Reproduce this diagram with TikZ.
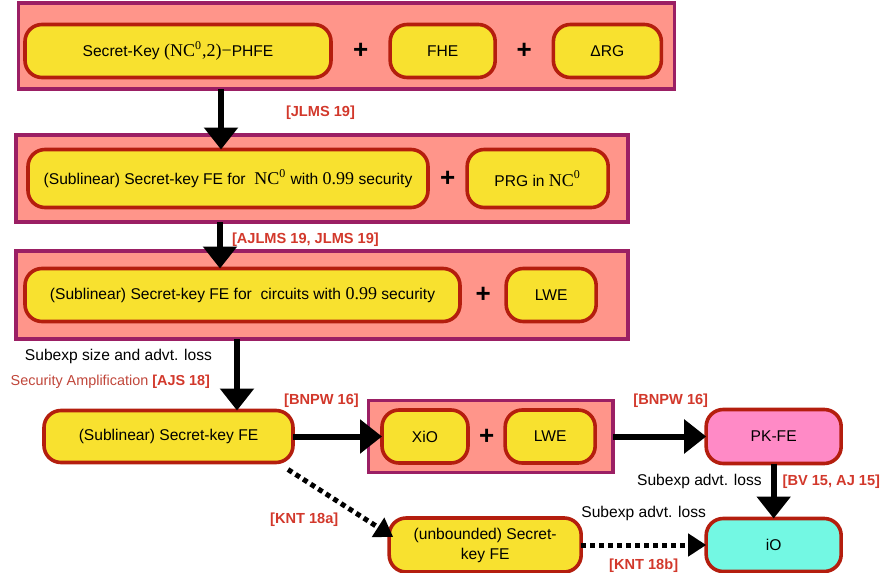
\documentclass[tikz,border=0pt]{standalone}
\usepackage{fontspec}
\setmainfont{Liberation Sans}
\newfontfamily\tms{Liberation Serif}
\newcommand\mth[1]{{\fontsize{9}{9}\selectfont\tms #1}}
\usetikzlibrary{positioning,fit,backgrounds,arrows.meta}

\definecolor{boxyellow}{HTML}{F8E12F}
\definecolor{boxred}{HTML}{B41E0E}
\definecolor{salmon}{HTML}{FF958A}
\definecolor{plum}{HTML}{9B1F64}
\definecolor{pkpink}{HTML}{FF8AC6}
\definecolor{ioaqua}{HTML}{73F8E3}
\definecolor{citered}{HTML}{D2382B}
\definecolor{amplred}{HTML}{C0463A}

\begin{document}
\begin{tikzpicture}[
        primitive/.style={
                rectangle,
                rounded corners=8.5pt,
                draw=boxred,
                fill=boxyellow,
                line width=1.8pt,
                minimum height=26.5pt,
                inner sep=2pt,
                outer sep=0pt,
                font=\fontsize{7.8}{9}\selectfont
            },
        bundle/.style={
                rectangle,
                draw=plum,
                fill=salmon,
                line width=1.6pt,
                outer sep=0pt
            },
        plus/.style={
                inner sep=0pt,
                outer sep=0pt,
                font=\fontsize{13}{13}\selectfont\bfseries
            },
        cite/.style={
                text=citered,
                inner sep=1pt,
                font=\fontsize{7.3}{8.5}\selectfont\bfseries
            },
        note/.style={
                inner sep=1pt,
                font=\fontsize{7.8}{9}\selectfont
            },
        imply/.style={
                line width=3pt,
                -{Triangle[length=11pt,width=16.5pt]}
            },
        weak/.style={
                line width=2.5pt,
                dash pattern=on 2.5pt off 2pt,
                -{Triangle[length=9pt,width=11pt]}
            }
    ]
    \useasboundingbox (0,0) rectangle (440pt,-286.5pt);

    % first row
    \node[primitive, minimum width=153pt] (PHFE) at (89pt,-25.5pt) {Secret-Key \mth{(NC\textsuperscript{0},2)−}PHFE};
    \node[plus] (P1) [right=11pt of PHFE] {+};
    \node[primitive, minimum width=52.5pt] (FHE) [right=11pt of P1] {FHE};
    \node[plus] (P2) [right=10.75pt of FHE] {+};
    \node[primitive, minimum width=54pt] (DRG) [right=10.75pt of P2] {ΔRG};

    % second row
    \node[primitive, minimum width=200pt, minimum height=29pt] (SKNC) [below=36pt of PHFE, xshift=25pt] {(Sublinear) Secret-key FE for~~\mth{NC\textsuperscript{0}} with \mth{0.99} security};
    \node[plus] (P3) [right=6pt of SKNC] {+};
    \node[primitive, minimum width=70.5pt, minimum height=29pt] (PRG) [right=6pt of P3] {PRG in \mth{NC\textsuperscript{0}}};

    % third row
    \node[primitive, minimum width=217.5pt] (SKC) [below=30.5pt of SKNC, xshift=7.25pt] {(Sublinear) Secret-key FE for~~circuits with \mth{0.99} security};
    \node[plus] (P4) [right=7.75pt of SKC] {+};
    \node[primitive, minimum width=45pt] (LWEa) [right=7.75pt of P4] {LWE};

    % fourth row
    \node[primitive, minimum width=124.5pt, minimum height=26pt] (SKFE) [below=44.5pt of SKC, xshift=-37pt] {(Sublinear) Secret-key FE};
    \node[primitive, minimum width=43pt] (XiO) [right=44.5pt of SKFE] {XiO};
    \node[plus] (P5) [right=5.5pt of XiO] {+};
    \node[primitive, minimum width=45pt] (LWEb) [right=5.5pt of P5] {LWE};
    \node[primitive, fill=pkpink, minimum width=67.5pt, minimum height=27pt] (PKFE) [right=55.5pt of LWEb] {PK-FE};

    % last row
    \node[primitive, fill=ioaqua, minimum width=67.5pt] (iO) [below=27.5pt of PKFE] {iO};
    \node[primitive, minimum width=96pt, minimum height=27pt, align=center, font=\fontsize{7.8}{10}\selectfont] (UBFE) [left=62.5pt of iO] {(unbounded) Secret-\\key FE};

    \begin{scope}[on background layer]
        \node[bundle, fit={(PHFE)(DRG)}, inner xsep=4.9pt, inner ysep=8.25pt, xshift=1.65pt, yshift=2.5pt] (Row1) {};
        \node[bundle, fit={(SKNC)(PRG)}, inner xsep=7.95pt, inner ysep=7.25pt, xshift=1.95pt] (Row2) {};
        \node[bundle, fit={(SKC)(LWEa)}, inner xsep=10.2pt, inner ysep=8.75pt, xshift=5.7pt] (Row3) {};
        \node[bundle, fit={(XiO)(LWEb)}, inner xsep=7.95pt, inner ysep=4.75pt, xshift=1pt] (Row4) {};
    \end{scope}

    \coordinate (A1) at ([xshift=-3.5pt]SKNC.north);
    \coordinate (A2) at ([xshift=-11.25pt]SKC.north);
    \coordinate (A3) at ([xshift=34.25pt]SKFE.north);

    \draw[imply] (Row1.south -| A1) -- (A1) node[cite, pos=.4, right=30pt] (C1) {[JLMS 19]};
    \draw[imply] (Row2.south -| A2) -- (A2) node[cite, pos=.38, right=3.5pt] (C2) {[AJLMS 19, JLMS 19]};
    \draw[imply] (Row3.south -| A3) -- (A3)
        node[note, pos=.24, left=10pt] (N1) {Subexp size and advt. loss}
        node[note, pos=.6, left=11pt, font=\fontsize{7.2}{9}\selectfont] (N2) {\textcolor{amplred}{Security Amplification} \textcolor{citered}{\bfseries [AJS 18]}};
    \draw[imply] (SKFE.east) -- (XiO.west) node[cite, pos=.32, above=12pt] (C3) {[BNPW 16]};
    \draw[imply] (Row4.east) -- (PKFE.west) node[cite, pos=.62, above=12pt] (C4) {[BNPW 16]};
    \draw[imply] (PKFE) -- (iO)
        node[note, pos=.33, left=3.5pt] (N3) {Subexp advt. loss}
        node[cite, pos=.33, right=2pt] (C5) {[BV 15, AJ 15]};
    \draw[weak] ([xshift=-2.5pt,yshift=-3.5pt]SKFE.south east) -- ([xshift=2pt,yshift=4pt]UBFE.west)
        node[cite, pos=.55, below left=1pt and 1.5pt] (C6) {[KNT 18a]};
    \draw[weak] (UBFE) -- (iO)
        node[note, midway, above=10pt] (N4) {Subexp advt. loss}
        node[cite, midway, below=4.5pt] (C7) {[KNT 18b]};
\end{tikzpicture}
\end{document}
